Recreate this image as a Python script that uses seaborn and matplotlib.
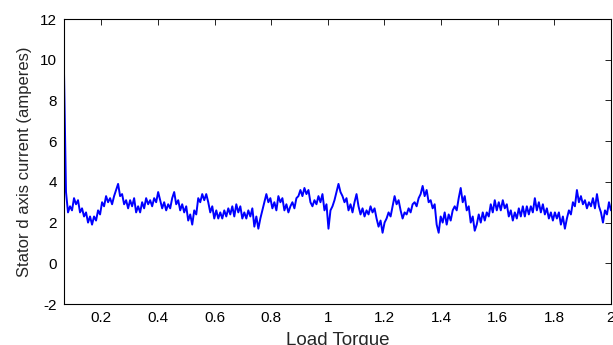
"""Stator d axis current vs load torque, MATLAB-style single trace."""

import matplotlib

matplotlib.use('Agg')
import matplotlib.pyplot as plt
import numpy as np
import pandas as pd
import seaborn as sns

# one sample every ~2 px along the x axis
current = [
    9.4, 3.5, 2.5, 2.8, 2.6, 3.2, 2.9, 3.1, 2.5, 2.7,
    2.3, 2.5, 2.0, 2.3, 1.9, 2.3, 2.1, 2.6, 2.4, 3.0,
    2.8, 3.3, 3.0, 3.2, 2.9, 3.3, 3.6, 3.9, 3.3, 3.4,
    2.9, 3.1, 2.7, 3.1, 2.8, 3.2, 2.5, 2.8, 2.5, 3.0,
    2.7, 3.2, 2.9, 3.1, 2.8, 3.2, 3.0, 3.5, 3.1, 2.7,
    3.0, 2.6, 2.9, 2.7, 3.2, 3.5, 2.9, 3.1, 2.6, 2.9,
    2.5, 2.8, 2.1, 2.4, 1.9, 2.6, 2.4, 3.2, 3.0, 3.4,
    3.1, 3.4, 3.0, 2.5, 2.8, 2.2, 2.6, 2.2, 2.5, 2.2,
    2.6, 2.3, 2.7, 2.4, 2.8, 2.3, 2.9, 2.5, 2.8, 2.2,
    2.5, 2.2, 2.6, 2.3, 2.7, 1.8, 2.3, 1.7, 2.2, 2.6,
    3.0, 3.4, 3.0, 3.2, 2.7, 3.0, 2.6, 3.3, 3.0, 3.2,
    2.6, 2.9, 2.5, 2.8, 3.0, 2.7, 3.2, 3.3, 3.6, 3.3,
    3.7, 3.4, 3.6, 3.0, 2.8, 3.1, 2.9, 3.3, 3.0, 3.4,
    2.6, 2.9, 1.7, 2.6, 2.8, 3.1, 3.5, 3.9, 3.5, 3.3,
    3.0, 3.2, 2.6, 2.9, 2.5, 3.0, 3.4, 2.8, 2.4, 2.7,
    2.3, 2.6, 2.4, 2.8, 2.5, 2.7, 2.2, 1.8, 2.1, 1.5,
    2.0, 2.2, 2.5, 2.3, 2.8, 3.3, 2.9, 3.1, 2.6, 2.2,
    2.5, 2.4, 2.7, 2.5, 2.9, 3.0, 2.8, 3.2, 3.4, 3.8,
    3.3, 3.6, 3.0, 3.1, 2.7, 2.9, 1.9, 1.5, 2.3, 2.0,
    2.5, 1.9, 2.4, 2.1, 2.6, 2.8, 2.6, 3.2, 3.7, 3.0,
    3.3, 2.6, 2.8, 2.0, 2.3, 1.6, 1.9, 2.4, 2.0, 2.5,
    2.1, 2.5, 2.3, 2.9, 2.5, 3.1, 2.6, 3.0, 2.6, 3.1,
    2.7, 2.9, 2.3, 2.6, 2.1, 2.5, 2.2, 2.7, 2.3, 2.8,
    2.3, 2.8, 2.4, 2.8, 2.5, 3.2, 2.6, 3.0, 2.5, 2.9,
    2.4, 2.7, 2.2, 2.5, 2.1, 2.5, 2.2, 2.5, 1.9, 2.3,
    1.7, 2.2, 2.6, 2.4, 3.0, 2.8, 3.6, 3.0, 3.3, 2.9,
    3.1, 2.7, 3.0, 2.8, 3.2, 2.7, 3.4, 2.8, 2.5, 2.0,
    2.6, 2.4, 3.0, 2.6,
]
torque_start = 0.068
torque_end = 2.0
x_ticks = [0.2, 0.4, 0.6, 0.8, 1.0, 1.2, 1.4, 1.6, 1.8, 2.0]
x_labels = ['0.2', '0.4', '0.6', '0.8', '1', '1.2', '1.4', '1.6', '1.8', '2']
y_ticks = [-2, 0, 2, 4, 6, 8, 10, 12]

df = pd.DataFrame({
    'torque': np.linspace(torque_start, torque_end, len(current)),
    'current': current,
})

sns.set_theme(style='white')
plt.rcParams['font.family'] = ['Liberation Sans', 'DejaVu Sans']
plt.rcParams['axes.unicode_minus'] = False

fig = plt.figure(figsize=(6.13, 3.45), dpi=100)
ax = fig.add_axes([0.1044, 0.1188, 0.8923, 0.8261])

sns.lineplot(data=df, x='torque', y='current', estimator=None, sort=False,
             color='#0000FF', linewidth=1.4, ax=ax)

ax.set_xlim(torque_start, torque_end)
ax.set_ylim(-2, 12)
ax.set_xticks(x_ticks)
ax.set_xticklabels(x_labels)
ax.set_yticks(y_ticks)
ax.tick_params(direction='in', top=True, right=True, length=4, width=0.6,
               labelsize=11, colors='black', pad=5)
for s in ax.spines.values():
    s.set_color('black')
    s.set_linewidth(0.8)

ax.set_xlabel('Load Torque', fontsize=13.5, labelpad=5)
ax.set_ylabel('Stator d axis current (amperes)', fontsize=12, labelpad=6)

fig.savefig('out.png', dpi=100, facecolor='white')
